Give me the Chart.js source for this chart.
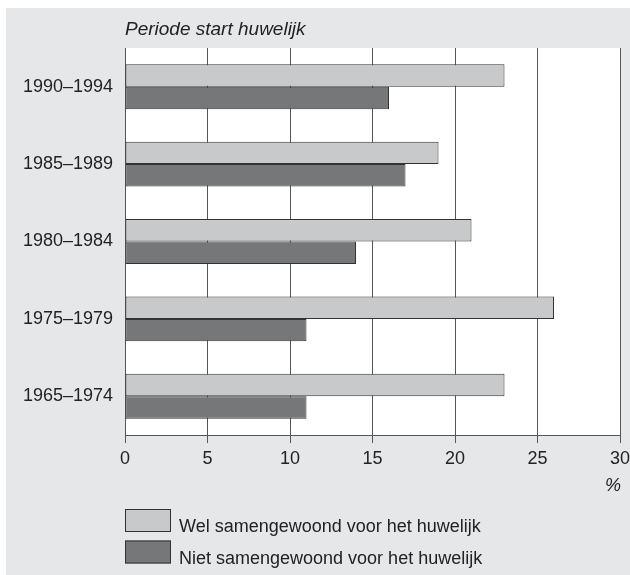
<!DOCTYPE html>
<html>
<head>
<meta charset="utf-8">
<script src="https://cdn.jsdelivr.net/npm/chart.js@4.4.1/dist/chart.umd.min.js"></script>
<style>
  html, body { margin: 0; padding: 0; background: #ffffff; }
  #wrap { position: absolute; left: 6px; top: 8px; width: 624px; height: 567px; background: #e6e7e8; }
  canvas { display: block; }
</style>
</head>
<body>
<div id="wrap"><canvas id="chart" width="624" height="567"></canvas></div>
<script>
const periods = ['1990–1994', '1985–1989', '1980–1984', '1975–1979', '1965–1974'];
const welSamen = [23, 19, 21, 26, 23];
const nietSamen = [16, 17, 14, 11, 11];
const xTicks = [0, 5, 10, 15, 20, 25, 30];

const FONT = '"Liberation Sans", Arial, sans-serif';

// white plot area, axis caption, % unit and the legend
const decor = {
    id: 'decor',
    beforeDraw(chart) {
        const { ctx, chartArea: a } = chart;
        ctx.save();
        ctx.fillStyle = '#ffffff';
        ctx.fillRect(a.left, a.top, a.right - a.left, a.bottom - a.top);
        ctx.restore();
    },
    afterDraw(chart) {
        const { ctx, chartArea: a } = chart;
        ctx.save();
        ctx.fillStyle = '#222';
        ctx.font = 'italic 19px ' + FONT;
        ctx.textBaseline = 'alphabetic';
        ctx.textAlign = 'left';
        ctx.fillText('Periode start huwelijk', a.left, a.top - 13);
        ctx.font = 'italic 18px ' + FONT;
        ctx.textAlign = 'right';
        ctx.fillText('%', a.right + 1, 483);

        // legend
        ctx.font = '18px ' + FONT;
        ctx.textAlign = 'left';
        chart.data.datasets.forEach((ds, i) => {
            const y = 501 + i * 31.5;
            ctx.fillStyle = ds.backgroundColor;
            ctx.fillRect(a.left, y, 46, 23);
            ctx.strokeStyle = '#333';
            ctx.lineWidth = 1;
            ctx.strokeRect(a.left + 0.5, y + 0.5, 45, 22);
            ctx.fillStyle = '#222';
            ctx.fillText(ds.label, a.left + 54, y + 23);
        });
        ctx.restore();
    }
};

new Chart(document.getElementById('chart'), {
    type: 'bar',
    data: {
        labels: periods,
        datasets: [
            {
                label: 'Wel samengewoond voor het huwelijk',
                data: welSamen,
                backgroundColor: '#c8c9cb',
                borderColor: '#333',
                borderWidth: 1,
                borderSkipped: false
            },
            {
                label: 'Niet samengewoond voor het huwelijk',
                data: nietSamen,
                backgroundColor: '#767779',
                borderColor: '#333',
                borderWidth: 1,
                borderSkipped: false
            }
        ]
    },
    options: {
        indexAxis: 'y',
        responsive: false,
        animation: false,
        categoryPercentage: 0.58,
        barPercentage: 1,
        layout: { padding: { left: 0, right: 10, top: 40, bottom: 0 } },
        plugins: {
            legend: { display: false },
            tooltip: { enabled: false }
        },
        scales: {
            x: {
                min: 0,
                max: 30,
                afterBuildTicks(scale) { scale.ticks = xTicks.map(v => ({ value: v })); },
                afterFit(scale) {
                    scale.height = 140;
                    scale.paddingLeft = 0;
                    scale.paddingRight = 0;
                },
                grid: { color: '#555', lineWidth: 1, tickLength: 8, drawOnChartArea: true },
                border: { color: '#555', width: 1 },
                ticks: { color: '#222', font: { family: FONT, size: 18 }, padding: 5, maxRotation: 0 }
            },
            y: {
                afterFit(scale) { scale.width = 119; },
                grid: { display: false },
                border: { color: '#555', width: 1 },
                ticks: { color: '#222', font: { family: FONT, size: 18 }, padding: 4 }
            }
        }
    },
    plugins: [decor]
});
</script>
</body>
</html>
